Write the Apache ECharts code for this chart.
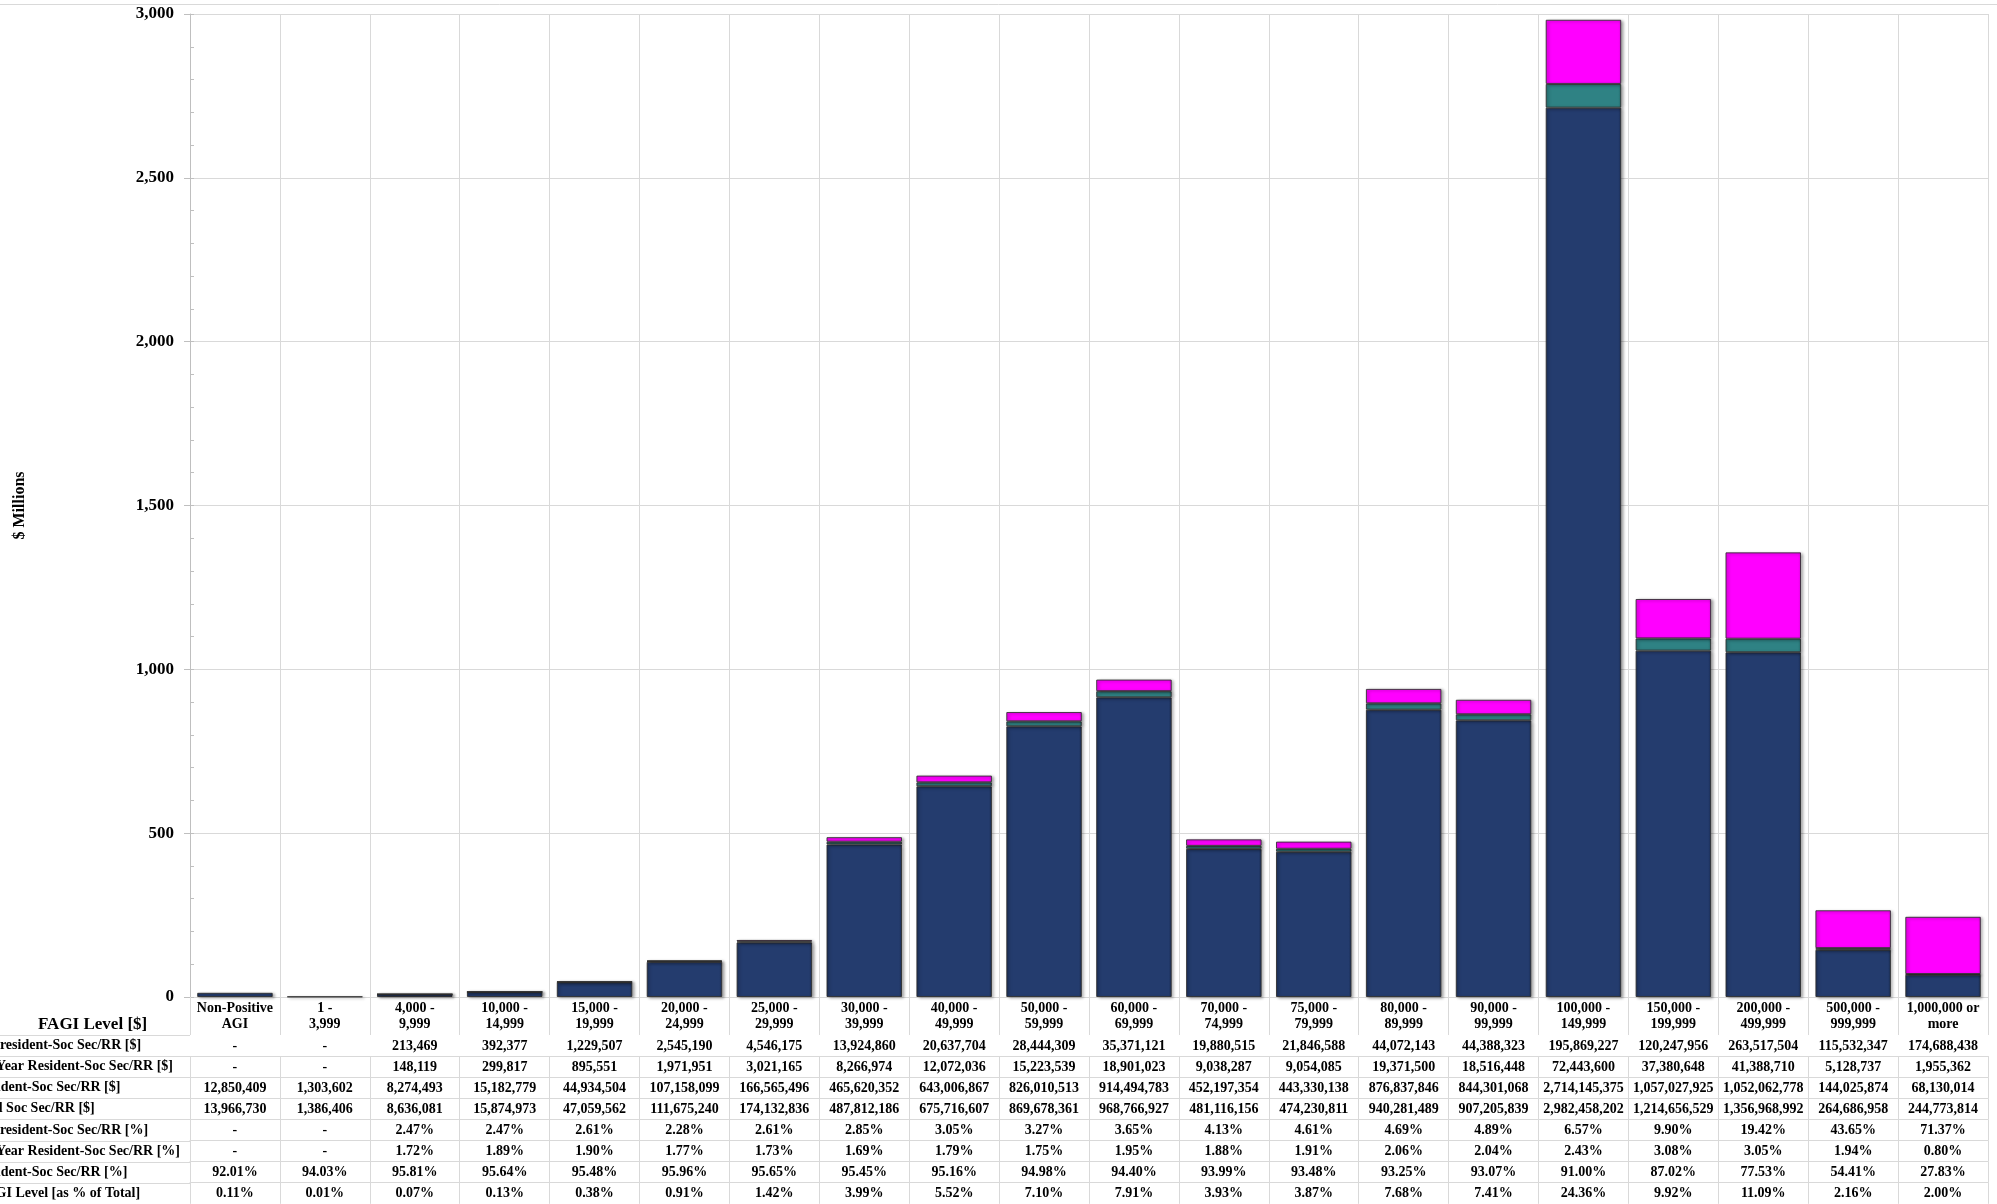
<!DOCTYPE html>
<html>
<head>
<meta charset="utf-8">
<script src="https://cdn.jsdelivr.net/npm/echarts@6/dist/echarts.min.js"></script>
<style>
html, body { margin: 0; padding: 0; background: #ffffff; }
#chart { width: 1997px; height: 1204px; }
</style>
</head>
<body>
<div id="chart"></div>
<script>
// FAGI income brackets
const categories = [
  'Non-Positive\nAGI', '1 -\n3,999', '4,000 -\n9,999', '10,000 -\n14,999', '15,000 -\n19,999',
  '20,000 -\n24,999', '25,000 -\n29,999', '30,000 -\n39,999', '40,000 -\n49,999', '50,000 -\n59,999',
  '60,000 -\n69,999', '70,000 -\n74,999', '75,000 -\n79,999', '80,000 -\n89,999', '90,000 -\n99,999',
  '100,000 -\n149,999', '150,000 -\n199,999', '200,000 -\n499,999', '500,000 -\n999,999', '1,000,000 or\nmore'
];

// Social Security / Railroad Retirement income, dollars (null = none reported)
const nonResidentSS = [null, null, 213469, 392377, 1229507, 2545190, 4546175, 13924860, 20637704, 28444309,
  35371121, 19880515, 21846588, 44072143, 44388323, 195869227, 120247956, 263517504, 115532347, 174688438];
const partYearSS = [null, null, 148119, 299817, 895551, 1971951, 3021165, 8266974, 12072036, 15223539,
  18901023, 9038287, 9054085, 19371500, 18516448, 72443600, 37380648, 41388710, 5128737, 1955362];
const residentSS = [12850409, 1303602, 8274493, 15182779, 44934504, 107158099, 166565496, 465620352, 643006867, 826010513,
  914494783, 452197354, 443330138, 876837846, 844301068, 2714145375, 1057027925, 1052062778, 144025874, 68130014];
const totalSS = [13966730, 1386406, 8636081, 15874973, 47059562, 111675240, 174132836, 487812186, 675716607, 869678361,
  968766927, 481116156, 474230811, 940281489, 907205839, 2982458202, 1214656529, 1356968992, 264686958, 244773814];

// Shares, percent
const nonResidentPct = [null, null, 2.47, 2.47, 2.61, 2.28, 2.61, 2.85, 3.05, 3.27,
  3.65, 4.13, 4.61, 4.69, 4.89, 6.57, 9.90, 19.42, 43.65, 71.37];
const partYearPct = [null, null, 1.72, 1.89, 1.90, 1.77, 1.73, 1.69, 1.79, 1.75,
  1.95, 1.88, 1.91, 2.06, 2.04, 2.43, 3.08, 3.05, 1.94, 0.80];
const residentPct = [92.01, 94.03, 95.81, 95.64, 95.48, 95.96, 95.65, 95.45, 95.16, 94.98,
  94.40, 93.99, 93.48, 93.25, 93.07, 91.00, 87.02, 77.53, 54.41, 27.83];
const fagiSharePct = [0.11, 0.01, 0.07, 0.13, 0.38, 0.91, 1.42, 3.99, 5.52, 7.10,
  7.91, 3.93, 3.87, 7.68, 7.41, 24.36, 9.92, 11.09, 2.16, 2.00];

const rowLabels = [
  'Nonresident-Soc Sec/RR [$]',
  'Part-Year Resident-Soc Sec/RR [$]',
  'Resident-Soc Sec/RR [$]',
  'Total Soc Sec/RR [$]',
  'Nonresident-Soc Sec/RR [%]',
  'Part-Year Resident-Soc Sec/RR [%]',
  'Resident-Soc Sec/RR [%]',
  'FAGI Level [as % of Total]'
];
const headerLabel = 'FAGI Level [$]';
const yAxisTitle = '$ Millions';

// ---- layout ----
const W = 1997, H = 1204;
const FONT = 'Liberation Serif';
const GRID_LEFT = 190, GRID_RIGHT = 9, GRID_TOP = 14, GRID_BOTTOM = 207;
const AXIS_Y = H - GRID_BOTTOM;
const HEADER_H = 38, ROW_H = 21.1;
const LINE = '#d9d9d9';
// row header text starts (the header column is wider than the page, so it runs off the left edge)
const ROW_LABEL_X = [-25, -35, -25, -28, -25, -35, -25, -22];

const money = v => v == null ? '-' : v.toLocaleString('en-US');
const pct = v => v == null ? '-' : v.toFixed(2) + '%';
const toMillions = arr => arr.map(v => v == null ? null : v / 1e6);

const tableRows = [
  nonResidentSS.map(money), partYearSS.map(money), residentSS.map(money), totalSS.map(money),
  nonResidentPct.map(pct), partYearPct.map(pct), residentPct.map(pct), fagiSharePct.map(pct)
];

// main category axis (header row of the table)
const xAxes = [{
  type: 'category',
  data: categories,
  position: 'bottom',
  boundaryGap: true,
  axisLine: { show: true, lineStyle: { color: LINE, width: 1 } },
  axisTick: { show: true, interval: 0, length: HEADER_H, lineStyle: { color: LINE } },
  splitLine: { show: true, interval: 0, lineStyle: { color: LINE, width: 1 } },
  axisLabel: {
    interval: 0, margin: 3, color: '#000', fontFamily: FONT, fontWeight: 'bold',
    fontSize: 14, lineHeight: 16, align: 'center'
  }
}];

// one extra category axis per data-table row
tableRows.forEach((row, k) => {
  xAxes.push({
    type: 'category',
    data: categories,
    position: 'bottom',
    offset: HEADER_H + k * ROW_H,
    boundaryGap: true,
    axisLine: { show: true, lineStyle: { color: LINE, width: 1 } },
    axisTick: { show: true, interval: 0, length: ROW_H, lineStyle: { color: LINE } },
    splitLine: { show: false },
    axisLabel: {
      interval: 0, margin: 4, color: '#000', fontFamily: FONT, fontWeight: 'bold',
      fontSize: 14, lineHeight: 14, align: 'center',
      formatter: (value, idx) => row[idx]
    }
  });
});

// row header area to the left of the table
const graphics = [
  { type: 'line', shape: { x1: 0, y1: 4.5, x2: W, y2: 4.5 }, style: { stroke: LINE, lineWidth: 1 }, silent: true },
  {
    type: 'text', left: 38, top: AXIS_Y + 19,
    style: { text: headerLabel, font: 'bold 17px "' + FONT + '"', fill: '#000' }
  }
];
rowLabels.forEach((label, k) => {
  const y = AXIS_Y + HEADER_H + k * ROW_H;
  graphics.push({
    type: 'line', shape: { x1: 0, y1: Math.round(y) + 0.5, x2: GRID_LEFT, y2: Math.round(y) + 0.5 },
    style: { stroke: LINE, lineWidth: 1 }, silent: true
  });
  graphics.push({
    type: 'text', x: ROW_LABEL_X[k], y: y + ROW_H / 2,
    style: {
      text: label, font: 'bold 14px "' + FONT + '"', fill: '#000',
      textAlign: 'left', textVerticalAlign: 'middle'
    }
  });
});

const barShadow = { shadowBlur: 3, shadowOffsetX: 2, shadowOffsetY: 1, shadowColor: 'rgba(0,0,0,0.35)' };

function barStyle(base, edge) {
  return Object.assign({
    color: new echarts.graphic.LinearGradient(0, 0, 1, 0, [
      { offset: 0, color: edge },
      { offset: 0.04, color: base },
      { offset: 0.96, color: base },
      { offset: 1, color: edge }
    ]),
    borderColor: 'rgba(45,45,45,0.85)',
    borderWidth: 1
  }, barShadow);
}

const option = {
  animation: false,
  backgroundColor: '#ffffff',
  grid: { left: GRID_LEFT, right: GRID_RIGHT, top: GRID_TOP, bottom: GRID_BOTTOM, containLabel: false },
  graphic: graphics,
  xAxis: xAxes,
  yAxis: [{
    type: 'value',
    min: 0, max: 3000, interval: 500,
    position: 'left',
    name: yAxisTitle,
    nameLocation: 'middle',
    nameRotate: 90,
    nameGap: 162,
    nameTextStyle: { color: '#000', fontFamily: FONT, fontWeight: 'bold', fontSize: 16 },
    axisLine: { show: true, lineStyle: { color: '#bfbfbf' } },
    axisTick: { show: true, length: 6, lineStyle: { color: '#bfbfbf' } },
    splitLine: { show: true, lineStyle: { color: LINE, width: 1 } },
    axisLabel: {
      margin: 16, color: '#000', fontFamily: FONT, fontWeight: 'bold', fontSize: 17,
      formatter: v => v.toLocaleString('en-US')
    }
  }, {
    // minor tick marks every 100
    type: 'value',
    min: 0, max: 3000, interval: 100,
    position: 'left',
    axisLine: { show: false },
    axisTick: { show: true, inside: true, length: 4, lineStyle: { color: '#bfbfbf' } },
    splitLine: { show: false },
    axisLabel: { show: false }
  }],
  series: [
    {
      name: 'Resident-Soc Sec/RR', type: 'bar', stack: 'ss', xAxisIndex: 0, yAxisIndex: 0,
      barCategoryGap: '16%',
      data: toMillions(residentSS),
      itemStyle: barStyle('#243c6e', '#1a2d55')
    },
    {
      name: 'Part-Year Resident-Soc Sec/RR', type: 'bar', stack: 'ss', xAxisIndex: 0, yAxisIndex: 0,
      barCategoryGap: '16%',
      data: toMillions(partYearSS),
      itemStyle: barStyle('#2f8284', '#246a6b')
    },
    {
      name: 'Nonresident-Soc Sec/RR', type: 'bar', stack: 'ss', xAxisIndex: 0, yAxisIndex: 0,
      barCategoryGap: '16%',
      data: toMillions(nonResidentSS),
      itemStyle: barStyle('#ff00ff', '#e600e6')
    }
  ]
};

const chart = echarts.init(document.getElementById('chart'), null, { renderer: 'canvas', width: W, height: H });
chart.setOption(option);
</script>
</body>
</html>
